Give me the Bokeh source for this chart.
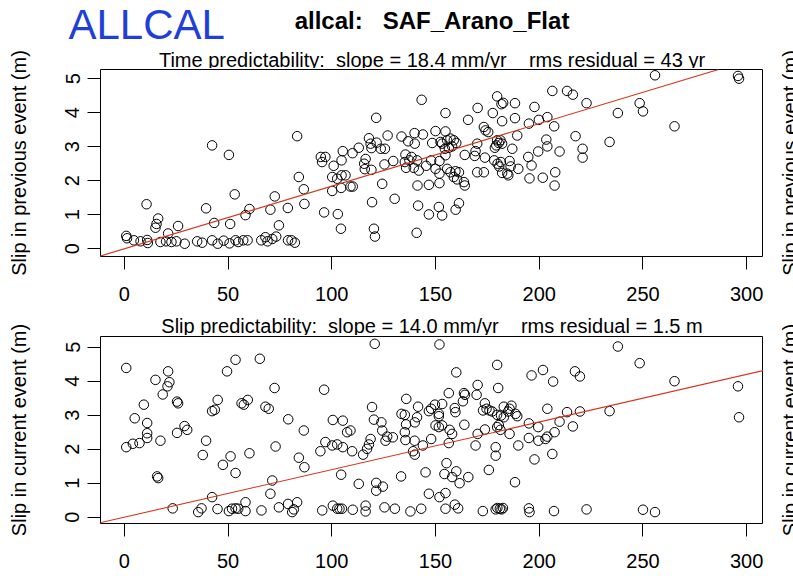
import math
from bokeh.plotting import figure
from bokeh.models import Slope, FixedTicker, Range1d
from bokeh.core.properties import value
from bokeh.layouts import column, row
from bokeh.embed import file_html
from bokeh.resources import INLINE

# ---------------- data ----------------
# Panel 1: time predictability -> x = interval (yr), y = slip in previous event (m)
prev_x = [42.3, 50.4, 53.2, 10.7, 39.4, 60.3, 58.4, 16.3, 15.5, 15.0,
          43.3, 51.0, 25.9, 21.1, 0.9, 1.3, 4.6, 7.8, 11.0, 11.3,
          17.4, 20.1, 22.7, 25.1, 29.1, 35.1, 37.5, 42.3, 45.0, 47.9,
          50.7, 53.6, 54.9, 57.3, 59.4, 66.0, 68.0, 69.0,
          143.3, 121.4, 83.3, 117.9, 126.9, 133.6, 139.9, 143.9, 136.8, 140.0,
          148.4, 118.7, 121.6, 119.1, 123.6, 125.6, 113.0, 105.3, 110.0, 94.7,
          96.9, 95.3, 104.7, 116.3, 115.6, 100.9, 115.9, 119.1, 125.4, 129.6,
          135.5, 138.4, 135.2, 137.4, 141.1, 135.8, 139.5, 141.9, 145.5, 147.9,
          100.2, 104.7, 106.6, 102.6, 100.2, 104.5, 109.0, 110.1, 84.1, 86.5,
          72.5, 70.4, 78.8, 86.8, 96.3, 102.9, 119.4, 124.3, 130.3, 141.3,
          146.8, 141.6, 146.8, 104.4, 120.3, 120.8, 140.9, 74.5, 73.2, 71.3,
          78.9, 80.6, 82.2, 150.0, 150.0,
          206.3, 213.4, 216.2, 222.8, 179.7, 182.6, 181.8, 188.3, 170.3, 197.7,
          154.8, 165.7, 177.6, 182.1, 188.3, 195.0, 199.8, 203.9, 207.2, 173.3,
          174.1, 175.4, 154.8, 189.4, 217.5, 152.4, 155.6, 157.2, 158.8, 160.0,
          158.0, 156.4, 154.5, 153.2, 169.3, 170.1, 179.7, 181.3, 180.5, 179.3,
          182.1, 178.6, 187.0, 168.9, 164.1, 154.8, 173.8, 178.3, 179.9, 181.5,
          180.7, 185.7, 186.2, 189.9, 194.7, 196.3, 199.5, 203.9, 203.4, 209.8,
          220.9, 220.9, 207.7, 201.7, 207.4, 195.3, 170.1, 173.3, 182.1, 184.6,
          185.1, 155.6, 157.2, 159.6, 161.3, 158.8, 160.4, 151.9, 151.9, 151.9,
          163.7, 164.1, 151.6, 153.2, 161.3, 159.7,
          255.8, 295.8, 296.3, 248.4, 250.0, 237.9, 265.2, 233.9]
prev_slip = [3.04, 2.76, 1.60, 1.31, 1.19, 1.17, 0.99, 0.89, 0.73, 0.62,
             0.76, 0.73, 0.67, 0.45, 0.38, 0.31, 0.25, 0.22, 0.26, 0.17,
             0.20, 0.22, 0.20, 0.22, 0.15, 0.22, 0.18, 0.25, 0.15, 0.24,
             0.16, 0.25, 0.20, 0.25, 0.25, 0.25, 0.34, 0.22,
             4.38, 3.85, 3.31, 3.25, 3.33, 3.30, 3.40, 3.36, 3.16, 3.09,
             3.11, 3.09, 3.12, 2.96, 2.94, 2.94, 2.97, 2.87, 2.81, 2.70,
             2.70, 2.55, 2.60, 2.64, 2.50, 2.44, 2.34, 2.32, 2.48, 2.58,
             2.77, 2.70, 2.55, 2.60, 2.60, 2.38, 2.38, 2.30, 2.44, 2.60,
             2.11, 2.16, 2.16, 2.06, 1.70, 1.79, 1.83, 1.83, 2.11, 1.75,
             1.54, 1.15, 1.20, 1.32, 1.07, 1.02, 1.37, 1.91, 1.47, 1.86,
             1.88, 1.27, 1.01, 0.59, 0.59, 0.36, 0.47, 0.69, 0.36, 0.29,
             0.25, 0.25, 0.18, 3.46, 2.35,
             4.64, 4.64, 4.53, 4.28, 4.48, 4.29, 4.25, 4.28, 4.14, 4.17,
             3.99, 3.79, 3.99, 3.75, 3.84, 3.68, 3.79, 3.87, 3.60, 3.58,
             3.48, 3.43, 3.45, 3.33, 3.31, 3.14, 3.19, 3.24, 3.19, 3.11,
             3.01, 2.97, 2.94, 3.09, 2.87, 3.09, 3.19, 3.19, 3.11, 3.04,
             3.09, 2.97, 2.94, 2.73, 2.76, 2.75, 2.68, 2.60, 2.50, 2.55,
             2.42, 2.58, 2.42, 2.35, 2.70, 2.45, 2.86, 3.01, 3.21, 2.86,
             2.94, 2.68, 2.25, 2.09, 1.86, 2.07, 2.25, 2.25, 2.23, 2.21,
             2.16, 2.35, 2.25, 2.28, 2.25, 2.11, 2.04, 2.21, 1.93, 2.58,
             1.96, 1.86, 1.23, 0.98, 1.34, 1.15,
             5.10, 5.08, 5.00, 4.28, 4.04, 3.99, 3.60, 3.14]

# Panel 2: slip predictability -> x = interval (yr), y = slip in current event (m)
cur_x = [0.9, 15.0, 21.1, 21.7, 20.8, 18.5, 9.4, 25.4, 25.9, 5.0,
         11.0, 11.0, 11.0, 0.9, 4.1, 7.3, 17.4, 25.4, 29.0, 30.3,
         15.8, 16.3, 39.4, 37.8, 51.2, 47.5, 53.6, 60.3, 42.3, 43.6,
         45.0, 49.5, 53.6, 65.3, 56.5, 57.6, 59.5, 68.0, 69.6, 42.3,
         23.3, 35.6, 37.2, 44.9, 50.4, 51.9, 53.6, 54.9, 58.4, 58.4,
         66.1,
         120.7, 72.4, 96.3, 79.0, 86.5, 72.9, 84.1, 86.8, 71.3, 70.4,
         74.5, 78.9, 80.9, 81.7, 83.3, 95.4, 100.5, 102.6, 103.7, 104.9,
         110.1, 116.3, 116.3, 125.4, 130.4, 137.9, 143.1, 104.5, 113.0, 121.4,
         121.4, 124.6, 133.4, 145.2, 146.8, 100.5, 105.3, 107.4, 109.0, 94.5,
         96.9, 100.2, 102.6, 105.3, 109.8, 115.1, 117.0, 117.9, 118.7, 119.4,
         120.3, 123.9, 124.3, 125.9, 126.7, 129.4, 135.9, 141.6, 133.6, 135.2,
         140.0, 141.1, 135.8, 135.2, 135.5, 139.9, 139.2, 140.0, 143.9, 147.9,
         146.8, 147.9, 149.7, 150.0,
         151.9, 179.7, 160.0, 196.3, 201.8, 206.7, 217.2, 219.6, 170.3, 180.2,
         156.4, 163.7, 164.2, 169.8, 163.2, 173.8, 153.2, 159.3, 159.6, 151.6,
         151.6, 182.9, 186.6, 172.9, 174.6, 176.0, 177.3, 179.7, 181.6, 182.9,
         185.0, 185.7, 188.6, 189.4, 203.9, 213.4, 219.6, 195.0, 209.8, 199.5,
         216.2, 207.4, 203.9, 199.6, 195.0, 203.0, 189.9, 185.7, 179.7, 181.3,
         180.5, 173.8, 170.3, 169.3, 179.0, 179.0, 197.7, 206.3, 163.9, 151.6,
         153.2, 156.8, 158.0, 156.4, 155.3, 154.3, 160.0, 158.0, 161.6, 165.8,
         175.7, 188.3, 151.9, 154.8, 154.8, 159.3, 160.9, 172.8, 179.0, 179.8,
         181.0, 181.8, 182.5, 195.0, 195.3, 207.1, 222.8,
         237.9, 248.4, 265.2, 295.8, 296.3, 233.9, 250.0, 255.8]
cur_slip = [4.39, 4.04, 4.29, 3.97, 3.85, 3.61, 3.31, 3.40, 3.35, 2.91,
            2.77, 2.47, 2.33, 2.06, 2.16, 2.18, 2.25, 2.48, 2.68, 2.57,
            1.20, 1.15, 2.25, 1.83, 1.79, 1.54, 1.30, 1.88, 3.12, 3.16,
            3.45, 4.29, 4.63, 4.66, 3.35, 3.31, 3.45, 3.25, 3.19, 0.59,
            0.26, 0.15, 0.26, 0.24, 0.18, 0.25, 0.26, 0.25, 0.44, 0.18,
            0.20,
            5.10, 3.80, 3.75, 2.88, 2.55, 2.08, 1.75, 1.47, 1.08, 0.69,
            0.29, 0.39, 0.15, 0.23, 0.44, 0.20, 0.34, 0.25, 0.25, 0.25,
            0.22, 0.34, 0.17, 0.29, 0.25, 0.17, 0.25, 1.25, 0.98, 1.01,
            0.78, 0.90, 1.20, 1.32, 0.69, 2.86, 2.84, 2.50, 2.55, 1.94,
            2.21, 2.11, 2.14, 2.06, 1.94, 1.84, 2.01, 2.14, 2.30, 3.24,
            2.87, 2.79, 2.55, 2.25, 2.37, 2.35, 3.48, 3.25, 3.04, 3.01,
            2.79, 2.94, 2.73, 2.50, 2.27, 2.25, 1.94, 1.84, 2.11, 2.30,
            3.12, 3.19, 3.31, 2.70,
            5.08, 4.48, 4.26, 4.17, 4.33, 3.99, 4.29, 4.14, 3.89, 3.80,
            3.65, 3.65, 3.60, 3.60, 3.41, 3.35, 3.33, 3.21, 3.09, 3.04,
            2.97, 3.25, 3.28, 3.14, 3.19, 3.14, 3.11, 3.01, 2.99, 2.94,
            3.11, 3.19, 3.04, 2.97, 3.19, 3.09, 3.11, 2.76, 2.81, 2.65,
            2.67, 2.50, 2.37, 2.25, 2.33, 2.30, 2.11, 2.45, 2.65, 2.57,
            2.71, 2.58, 2.45, 2.11, 2.06, 1.81, 1.70, 1.86, 2.72, 2.65,
            2.70, 2.57, 2.45, 2.18, 1.59, 1.27, 1.35, 1.18, 1.00, 1.18,
            1.39, 1.03, 0.59, 0.71, 0.25, 0.37, 0.26, 0.18, 0.23, 0.27,
            0.25, 0.23, 0.27, 0.26, 0.15, 0.18, 0.23,
            5.02, 4.53, 4.00, 3.85, 2.94, 3.12, 0.22, 0.15]

assert len(prev_x) == len(prev_slip)
assert len(cur_x) == len(cur_slip)

x_ticks = [0, 50, 100, 150, 200, 250, 300]
y_ticks = [0, 1, 2, 3, 4, 5]
time_slope = 0.0184   # 18.4 mm/yr
slip_slope = 0.0140   # 14.0 mm/yr

NB = "\u00a0"
main_title = "allcal:" + " " + NB * 2 + "SAF_Arano_Flat"
corner_title = "ALLCAL"
sub1 = ("Time predictability:" + " " + NB + "slope = 18.4 mm/yr" + " " + NB * 3
        + "rms residual = 43 yr")
sub2 = ("Slip predictability:" + " " + NB + "slope = 14.0 mm/yr" + " " + NB * 3
        + "rms residual = 1.5 m")
ylab1 = "Slip in previous event (m)"
ylab2 = "Slip in current event (m)"

# ---------------- styling / layout ----------------
FONT = "Liberation Sans"
RED = "#d4351c"
BLUE = "#1f3fd9"
STRIP_W = 40        # left strip holding the y axis titles
LEFT = 60           # axis area of each panel (frame starts at page x = 100)
FRAME_W = 663
FRAME_H = 187
MAIN_W = LEFT + FRAME_W      # 723
MAIN_X0 = STRIP_W            # page x of the main column
SIDE_X0 = MAIN_X0 + MAIN_W   # 763
SIDE_W = 30
HEAD_H = 68
MID_H = 29
TOP_B = 1
BOT_B = 50
PANEL_H = TOP_B + FRAME_H + BOT_B
TOTAL_H = HEAD_H + PANEL_H + MID_H + PANEL_H
FRAME_CX = MAIN_X0 + LEFT + FRAME_W / 2
P1_MID = HEAD_H + TOP_B + FRAME_H / 2
P2_MID = HEAD_H + PANEL_H + MID_H + TOP_B + FRAME_H / 2
MID_SHIFT = 0.35    # baseline lies this many em below the "middle" anchor


def text_fig(x0, y0, w, h):
    """A blank figure whose data coordinates equal page pixels."""
    f = figure(width=w, height=h, x_range=Range1d(x0, x0 + w), y_range=Range1d(y0 + h, y0),
               x_axis_location=None, y_axis_location=None, min_border=0,
               output_backend="svg", toolbar_location=None, title=None,
               frame_align=False)
    f.outline_line_color = None
    f.grid.visible = False
    f.background_fill_color = "white"
    f.border_fill_color = "white"
    return f


def add_text(f, x, baseline, text, px, color="black", align="center", style="normal",
             vertical=False):
    """Place text so that its baseline sits at `baseline` (page pixels)."""
    shift = MID_SHIFT * px
    if vertical:
        xx, yy, ang = baseline - shift, x, math.pi / 2
    else:
        xx, yy, ang = x, baseline - shift, 0.0
    f.text(x=[xx], y=[yy], text=[text], text_font=value(FONT), text_font_size=f"{px}px",
           text_font_style=style, text_color=color, text_align=align,
           text_baseline="middle", angle=ang)


def make_panel(xs, ys, slope, ylim):
    p = figure(width=MAIN_W, height=PANEL_H,
               x_range=Range1d(-11.5, 308.1), y_range=Range1d(*ylim),
               output_backend="svg", toolbar_location=None, title=None,
               min_border_left=LEFT, min_border_right=0,
               min_border_top=TOP_B, min_border_bottom=BOT_B,
               frame_align=False)
    p.background_fill_color = "white"
    p.border_fill_color = "white"
    p.outline_line_color = "black"
    p.outline_line_width = 1
    p.outline_line_alpha = 1.0
    p.xgrid.visible = False
    p.ygrid.visible = False

    p.xaxis.ticker = FixedTicker(ticks=x_ticks)
    p.yaxis.ticker = FixedTicker(ticks=y_ticks)
    for ax in (p.xaxis, p.yaxis):
        ax.axis_line_color = None
        ax.major_tick_in = 0
        ax.major_tick_out = 13
        ax.major_tick_line_color = "black"
        ax.major_tick_line_width = 1
        ax.minor_tick_line_color = None
        ax.major_label_text_font = FONT
        ax.major_label_text_font_size = "20px"
        ax.major_label_text_color = "black"
    p.xaxis.major_label_standoff = 17
    p.yaxis.major_label_standoff = 8
    p.yaxis.major_label_orientation = "vertical"

    p.scatter(xs, ys, marker="circle", size=9.5, fill_color=None,
              line_color="black", line_width=1)
    p.add_layout(Slope(gradient=slope, y_intercept=0.0,
                       line_color=RED, line_width=1.1))
    return p


# left strip: y axis titles
strip = text_fig(0, 0, STRIP_W, TOTAL_H)
add_text(strip, P1_MID, 25.5, ylab1, 20, vertical=True)
add_text(strip, P2_MID, 25.5, ylab2, 20, vertical=True)

# header: corner tag, main title, first panel subtitle
head = text_fig(MAIN_X0, 0, MAIN_W, HEAD_H)
add_text(head, 68, 38.3, corner_title, 42, color=BLUE, align="left")
add_text(head, FRAME_CX, 28.3, main_title, 24, style="bold")
add_text(head, FRAME_CX, 66, sub1, 20)

p1 = make_panel(prev_x, prev_slip, time_slope, (-0.226, 5.27))

mid_y0 = HEAD_H + PANEL_H
mid = text_fig(MAIN_X0, mid_y0, MAIN_W, MID_H)
add_text(mid, FRAME_CX, mid_y0 + 26.5, sub2, 20)

p2 = make_panel(cur_x, cur_slip, slip_slope, (-0.185, 5.315))

# right strip: y titles of the neighbouring (cropped) column
side = text_fig(SIDE_X0, 0, SIDE_W, TOTAL_H)
add_text(side, P1_MID, 796, ylab1, 20, vertical=True)
add_text(side, P2_MID, 796, ylab2, 20, vertical=True)

layout = row(strip, column(head, p1, mid, p2), side)
open("out.html", "w").write(file_html(layout, INLINE))
